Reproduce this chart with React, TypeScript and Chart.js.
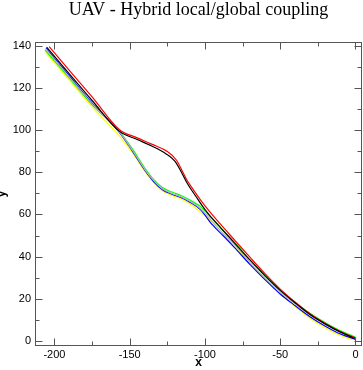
import React, { useEffect, useRef } from "react";
import { Chart, registerables } from "chart.js";

Chart.register(...registerables);

const TITLE = "UAV - Hybrid local/global coupling";
const X_LABEL = "x";
const Y_LABEL = "y";

const xTicks = [-200, -150, -100, -50, 0];
const yTicks = [0, 20, 40, 60, 80, 100, 120, 140];
const xMinorTicks = [-175, -125, -75, -25];
const yMinorTicks = [10, 30, 50, 70, 90, 110, 130];

const blackX = [-205.2, -190, -175, -157, -145, -135, -126, -120, -116, -112, -106, -100, -95, -90, -80, -70, -60, -50, -40, -30, -20, -10, -0.5];
const blackY = [139.3, 126.5, 114, 99.5, 95.5, 92.3, 88.8, 85.3, 80.5, 75, 68.5, 62.3, 58, 54, 46.2, 38.3, 30.9, 24, 18, 12.4, 8, 4.2, 1.2];

const redX = [-203.5, -190, -175, -157, -145, -135, -125, -119, -115, -112, -108, -103, -97, -90, -80, -70, -60, -50, -40, -30, -20, -10, 0.5];
const redY = [139.5, 128.2, 115.7, 100.3, 96.3, 93.2, 89.8, 85.8, 80.5, 76.3, 72, 66.9, 61.4, 55.6, 47.6, 39.6, 31.8, 24.6, 18.4, 12.8, 8.3, 4.5, 1.3];

const greenX = [-206.3, -190, -175, -157, -148, -140, -134, -128, -122, -116, -110, -103, -95, -88, -80, -70, -60, -50, -40, -30, -20, -10, 0];
const greenY = [138, 124.5, 112, 99.5, 90.8, 82, 76.5, 72.6, 70.6, 69, 66.8, 63.7, 57.8, 52.5, 46.5, 38.3, 30.8, 24, 18.3, 13, 8.6, 4.8, 1.8];

const blueX = [-205.6, -190, -175, -157, -148, -140, -134, -128, -122, -116, -110, -103, -95, -88, -80, -70, -60, -50, -40, -30, -20, -10, 0];
const blueY = [138.8, 125.5, 112.8, 99, 89.8, 81, 75.5, 71.6, 69.6, 68, 65.8, 62.3, 55, 50, 44, 36.2, 29, 22.3, 16.7, 11.4, 7, 3.3, 0.8];

const grayX = [-205.8, -190, -175, -157, -148, -140, -134, -128, -122, -116, -110, -103, -95, -88, -80, -70, -60, -50, -40, -30, -20, -10, 0];
const grayY = [138.5, 125, 112.4, 99.2, 90.2, 81.4, 76, 72, 70, 68.4, 66.2, 62.8, 56.5, 51, 45.5, 37.2, 29.8, 23.2, 17.5, 12.2, 7.9, 4.2, 1.3];

const yellowX = [-206.3, -190, -175, -156.5, -148, -140, -134, -128, -122, -116, -110, -103, -95, -88, -80, -70, -60, -50, -40, -30, -20, -10, -2];
const yellowY = [137.2, 123.5, 111, 96.9, 89, 80.5, 75, 71, 69, 67.3, 65, 61.3, 56, 51, 45, 36.8, 29.2, 22.2, 16.2, 10.7, 6.2, 2.6, 0.5];

const X_MIN = -212.6;
const X_MAX = 4;
const Y_MIN = -2.13;
const Y_MAX = 141.5;

const FRAME_COLOR = "#555555";

function pts(xs: number[], ys: number[]) {
  return xs.map((x, i) => ({ x, y: ys[i] }));
}

const framePlugin = {
  id: "graceFrame",
  afterDatasetsDraw(chart: any) {
    const { ctx, chartArea: a, scales } = chart;
    const xs = scales.x;
    const ys = scales.y;
    ctx.save();
    ctx.strokeStyle = FRAME_COLOR;
    ctx.lineWidth = 1;
    ctx.strokeRect(a.left, a.top, a.right - a.left, a.bottom - a.top);
    ctx.beginPath();
    const vTick = (v: number, len: number) => {
      const px = Math.round(xs.getPixelForValue(v)) + 0.5;
      ctx.moveTo(px, a.bottom);
      ctx.lineTo(px, a.bottom - len);
      ctx.moveTo(px, a.top);
      ctx.lineTo(px, a.top + len);
    };
    const hTick = (v: number, len: number) => {
      const py = Math.round(ys.getPixelForValue(v)) + 0.5;
      ctx.moveTo(a.left, py);
      ctx.lineTo(a.left + len, py);
      ctx.moveTo(a.right, py);
      ctx.lineTo(a.right - len, py);
    };
    xTicks.forEach((v) => vTick(v, 7));
    xMinorTicks.forEach((v) => vTick(v, 4));
    yTicks.forEach((v) => hTick(v, 7));
    yMinorTicks.forEach((v) => hTick(v, 4));
    ctx.stroke();
    ctx.restore();
  },
};

export default function App() {
  const ref = useRef<HTMLCanvasElement | null>(null);

  useEffect(() => {
    if (!ref.current) return;
    const series = [
      { label: "black", xs: blackX, ys: blackY, color: "#000000" },
      { label: "red", xs: redX, ys: redY, color: "#ff0000" },
      { label: "gray", xs: grayX, ys: grayY, color: "#b4b4b4" },
      { label: "blue", xs: blueX, ys: blueY, color: "#0000ff" },
      { label: "green", xs: greenX, ys: greenY, color: "#00ff00" },
      { label: "yellow", xs: yellowX, ys: yellowY, color: "#ffff00" },
    ];
    const chart = new Chart(ref.current, {
      type: "line",
      data: {
        datasets: series.map((s) => ({
          label: s.label,
          data: pts(s.xs, s.ys),
          borderColor: s.color,
          backgroundColor: s.color,
          borderWidth: 1.2,
          pointRadius: 0,
          cubicInterpolationMode: "monotone",
          fill: false,
        })),
      },
      options: {
        animation: false,
        responsive: false,
        devicePixelRatio: 1,
        layout: { padding: { left: 0, right: 1.5, top: 0, bottom: 0 } },
        plugins: {
          legend: { display: false },
          tooltip: { enabled: false },
          title: {
            display: true,
            text: TITLE,
            fullSize: false,
            color: "#000000",
            font: { family: "Liberation Serif", size: 18, weight: "normal", lineHeight: 1 },
            padding: { top: 1.5, bottom: 23 },
          },
        },
        scales: {
          x: {
            type: "linear",
            min: X_MIN,
            max: X_MAX,
            afterBuildTicks: (s: any) => {
              s.ticks = xTicks.map((v) => ({ value: v }));
            },
            afterFit: (s: any) => {
              s.height = 24.5;
            },
            grid: { display: false, drawTicks: false, tickLength: 0 },
            border: { display: false },
            ticks: {
              color: "#000000",
              padding: 3,
              maxRotation: 0,
              font: { family: "Liberation Sans", size: 11 },
            },
            title: {
              display: true,
              text: X_LABEL,
              color: "#000000",
              padding: 0,
              font: { family: "Liberation Sans", size: 12, weight: "bold", lineHeight: 1.2 },
            },
          },
          y: {
            type: "linear",
            min: Y_MIN,
            max: Y_MAX,
            afterBuildTicks: (s: any) => {
              s.ticks = yTicks.map((v) => ({ value: v }));
            },
            afterFit: (s: any) => {
              s.width = 35.5;
            },
            grid: { display: false, drawTicks: false, tickLength: 0 },
            border: { display: false },
            ticks: {
              color: "#000000",
              padding: 4.5,
              font: { family: "Liberation Sans", size: 11 },
            },
            title: {
              display: true,
              text: Y_LABEL,
              color: "#000000",
              padding: 0,
              font: { family: "Liberation Sans", size: 12, weight: "bold", lineHeight: 0.35 },
            },
          },
        },
      },
      plugins: [framePlugin],
    } as any);
    return () => chart.destroy();
  }, []);

  return (
    <div style={{ position: "absolute", left: 0, top: 0, width: 363, height: 370, background: "#ffffff" }}>
      <canvas ref={ref} width={363} height={370} style={{ display: "block" }} />
    </div>
  );
}
